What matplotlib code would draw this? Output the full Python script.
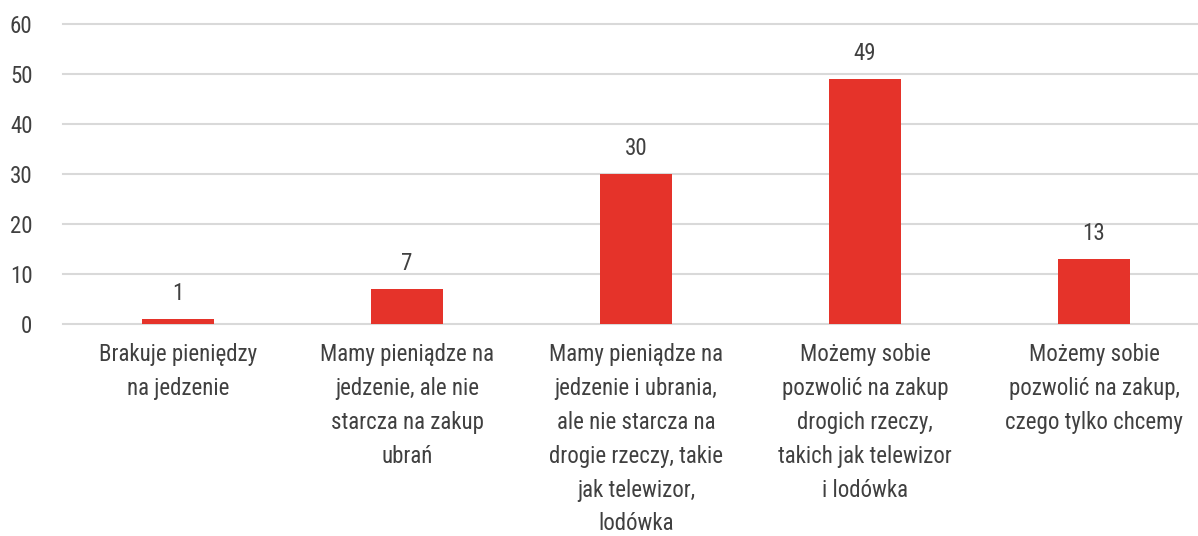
import matplotlib
matplotlib.use("Agg")
import matplotlib.pyplot as plt
from matplotlib import font_manager


def pick_font():
    entries = font_manager.fontManager.ttflist
    names = {f.name for f in entries}
    for cand in ["Liberation Sans Narrow", "Roboto Condensed", "Open Sans Condensed",
                 "Noto Sans Condensed", "DejaVu Sans Condensed"]:
        if cand in names:
            return cand, "normal"
    for f in entries:
        st = str(f.stretch).lower()
        if ("condensed" in st and "ultra" not in st and "extra" not in st) and f.style == "normal":
            return f.name, f.stretch
    for f in entries:
        n = f.name.lower()
        if ("condensed" in n or "narrow" in n) and f.style == "normal":
            return f.name, "normal"
    return "Roboto", "normal"


fam, stretch = pick_font()
condensed = fam != "Roboto"
plt.rcParams['font.family'] = [fam, 'DejaVu Sans']
plt.rcParams['font.stretch'] = stretch if condensed else "normal"

categories = [
    "Brakuje pieniędzy\nna jedzenie",
    "Mamy pieniądze na\njedzenie, ale nie\nstarcza na zakup\nubrań",
    "Mamy pieniądze na\njedzenie i ubrania,\nale nie starcza na\ndrogie rzeczy, takie\njak telewizor,\nlodówka",
    "Możemy sobie\npozwolić na zakup\ndrogich rzeczy,\ntakich jak telewizor\ni lodówka",
    "Możemy sobie\npozwolić na zakup,\nczego tylko chcemy",
]
values = [1, 7, 30, 49, 13]
yticks = [0, 10, 20, 30, 40, 50, 60]

text_color = "#404040"
bar_color = "#E5332A"
grid_color = "#D9D9D9"

fs = 16.5 if condensed else 13.5
ls = 1.6 if condensed else 1.75

fig = plt.figure(figsize=(11.98, 5.36), dpi=100)
ax = fig.add_axes([63/1198, 1 - 324/536, (1198-63)/1198, 300/536])

x = list(range(len(values)))
ax.bar(x, values, width=0.314, color=bar_color, zorder=3)
for xi, v in zip(x, values):
    ax.annotate(str(v), (xi, v), xytext=(0, 10), textcoords="offset points",
                ha="center", va="bottom", fontsize=fs, color=text_color)

ax.set_xlim(-0.502, 4.454)
ax.set_ylim(0, 60)
ax.set_yticks(yticks)
ax.set_yticklabels([str(t) for t in yticks], fontsize=fs, color=text_color)
ax.set_xticks(x)
ax.set_xticklabels(categories, fontsize=fs, color=text_color, linespacing=ls)
ax.tick_params(axis="y", length=0, pad=22)
ax.tick_params(axis="x", length=0, pad=14)
ax.grid(axis="y", color=grid_color, linewidth=1.5, zorder=0)
for gl in ax.get_ygridlines():
    gl.set_clip_on(False)
ax.set_axisbelow(True)
for s in ax.spines.values():
    s.set_visible(False)

fig.savefig("out.png", dpi=100)
